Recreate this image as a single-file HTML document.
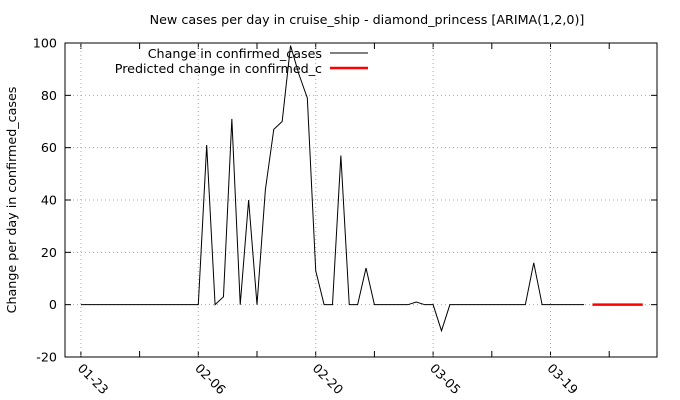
<!DOCTYPE html>
<html><head><meta charset="utf-8"><style>body{margin:0;background:#fff}svg{display:block;font-family:"DejaVu Sans","Liberation Sans",sans-serif}</style></head><body>
<svg id="c" width="680" height="400"></svg>
<script>
const categories=[];for(let i=0;i<=68;i++){const d=new Date(Date.UTC(2020,0,23+i));categories.push(String(d.getUTCMonth()+1).padStart(2,'0')+'-'+String(d.getUTCDate()).padStart(2,'0'));}
const actualValues=[0,0,0,0,0,0,0,0,0,0,0,0,0,0,0,61,0,3,71,0,40,0,44,67,70,99,88,79,13,0,0,57,0,0,14,0,0,0,0,0,1,0,0,-10,0,0,0,0,0,0,0,0,0,0,16,0,0,0,0,0,0];
const predStart=61;
const predictedValues=[0,0,0,0,0,0,0];
const yTicks=[-20,0,20,40,60,80,100];
const xTickLabels=['01-23','02-06','02-20','03-05','03-19'];
const X0=65,X1=657,Y0=43,Y1=357;
const FS=12.7;
const x=i=>80.9+i*8.386;
const y=v=>Y1-(v+20)/120*(Y1-Y0);
const s=document.getElementById('c'),NS='http://www.w3.org/2000/svg';
function mk(t,a,p){const e=document.createElementNS(NS,t);for(const k in a)e.setAttribute(k,a[k]);(p||s).appendChild(e);return e;}
let e=mk('text',{x:367,y:24,'text-anchor':'middle','font-size':FS});e.textContent='New cases per day in cruise_ship - diamond_princess [ARIMA(1,2,0)]';

e=mk('text',{x:0,y:0,'text-anchor':'middle','font-size':FS,transform:'translate(16,200) rotate(-90)'});e.textContent='Change per day in confirmed_cases';

yTicks.forEach(v=>{const yy=y(v);
 if(v>-20&&v<100){e=mk('line',{x1:X0,x2:X1,y1:yy,y2:yy,stroke:'#aaa','stroke-dasharray':'1,3','stroke-width':1});}
 mk('line',{x1:X0,x2:X0+6,y1:yy,y2:yy,stroke:'#000'});mk('line',{x1:X1,x2:X1-6,y1:yy,y2:yy,stroke:'#000'});
 e=mk('text',{x:X0-8,y:yy+4.5,'text-anchor':'end','font-size':FS});e.textContent=v;});
for(let i=0;i<categories.length;i+=7){const xx=x(i);
 mk('line',{x1:xx,x2:xx,y1:Y1,y2:Y1-6,stroke:'#000'});mk('line',{x1:xx,x2:xx,y1:Y0,y2:Y0+6,stroke:'#000'});
 if(i%14==0){e=mk('line',{x1:xx,x2:xx,y1:Y0,y2:Y1,stroke:'#aaa','stroke-dasharray':'1,3'});
  e=mk('text',{x:0,y:0,'font-size':FS,transform:`translate(${xx-4},${Y1+12}) rotate(45)`});e.textContent=xTickLabels[i/14];}}
e=mk('rect',{x:X0,y:Y0,width:X1-X0,height:Y1-Y0,fill:'none',stroke:'#000'});
e=mk('polyline',{points:actualValues.map((v,i)=>x(i)+','+y(v)).join(' '),fill:'none',stroke:'#000','stroke-width':1});

e=mk('polyline',{points:predictedValues.map((v,i)=>x(predStart+i)+','+y(v)).join(' '),fill:'none',stroke:'#f00','stroke-width':2.5});

[['Change in confirmed_cases','#000',1,58],['Predicted change in confirmed_c','#f00',2.5,73]].forEach((l,k)=>{
 e=mk('text',{x:322,y:l[3],'text-anchor':'end','font-size':FS});e.textContent=l[0];
 e=mk('line',{x1:330,x2:368,y1:l[3]-5,y2:l[3]-5,stroke:l[1],'stroke-width':l[2]});});
</script></body></html>
